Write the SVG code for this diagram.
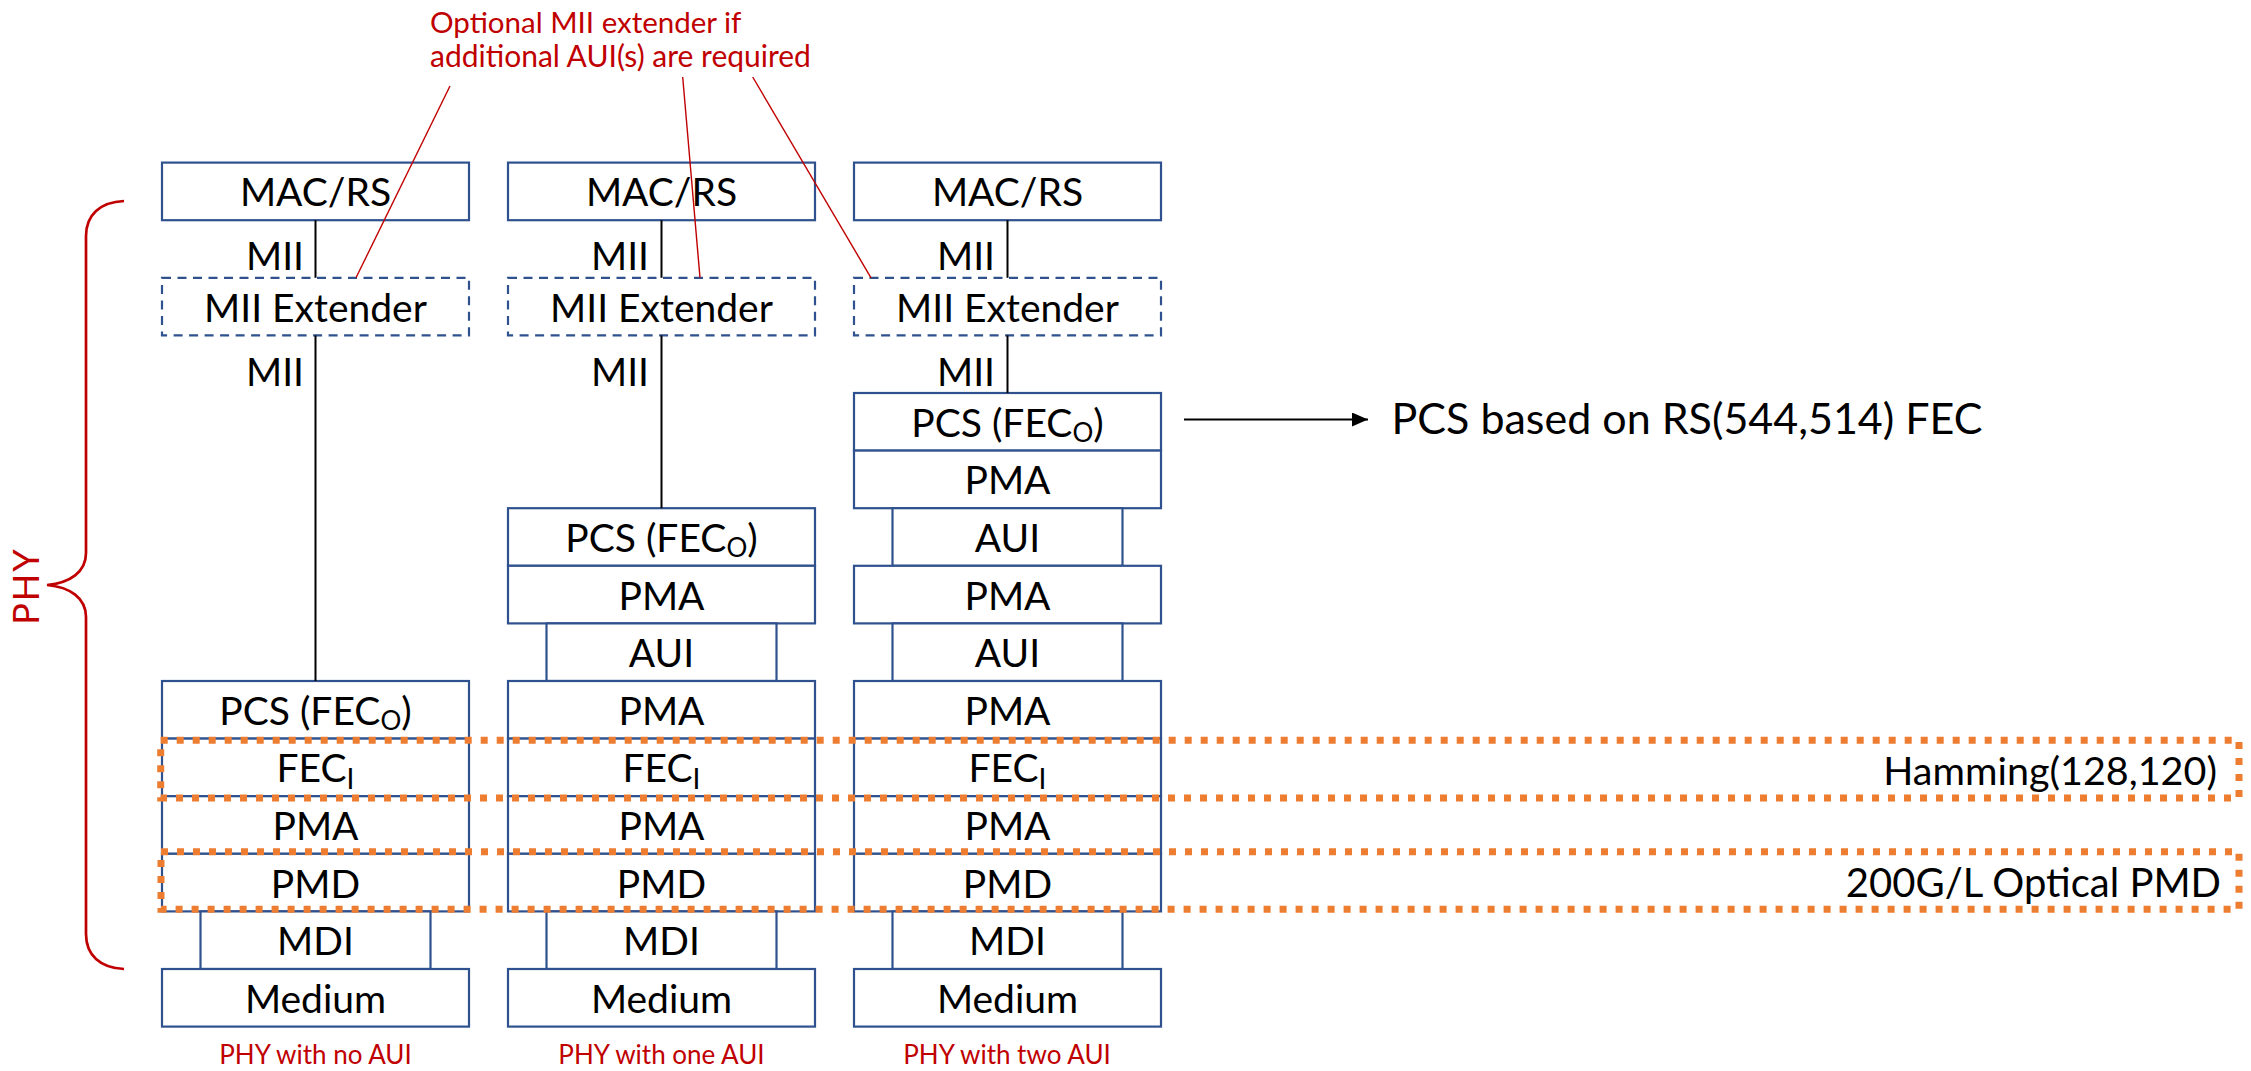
<svg xmlns="http://www.w3.org/2000/svg" width="2251" height="1071" viewBox="0 0 2251 1071">
<defs>
<style>
.b{fill:#fff;stroke:#2F528F;stroke-width:2.2}
.d{fill:#fff;stroke:#2F528F;stroke-width:2.2;stroke-dasharray:9 6.5}
.t{font-family:Lato,'Liberation Sans',sans-serif;font-size:39px;fill:#000;text-anchor:middle}
.m{font-family:Lato,'Liberation Sans',sans-serif;font-size:39px;fill:#000;text-anchor:end}
.r{font-family:Lato,'Liberation Sans',sans-serif;fill:#C00000}
.c{font-family:Lato,'Liberation Sans',sans-serif;font-size:26px;fill:#C00000;text-anchor:middle}
.k{stroke:#000;stroke-width:2;fill:none}
.rl{stroke:#C00000;stroke-width:1.4;fill:none}
.o{fill:none;stroke:#ED7D31;stroke-width:7;stroke-dasharray:7 9}
.big{font-family:Lato,'Liberation Sans',sans-serif;fill:#000}
</style>
<marker id="ah" markerWidth="8" markerHeight="7" refX="8" refY="3.5" orient="auto" markerUnits="strokeWidth">
<path d="M0,0 L8,3.5 L0,7 z" fill="#000"/>
</marker>
</defs>
<rect width="2251" height="1071" fill="#fff"/>

<g id="mii-labels">
<text class="m" x="304" y="270">MII</text>
<text class="m" x="304" y="385.5">MII</text>
<text class="m" x="649" y="270">MII</text>
<text class="m" x="649" y="385.5">MII</text>
<text class="m" x="995" y="270">MII</text>
<text class="m" x="995" y="385.5">MII</text>
</g>

<!-- Column 1 -->
<g id="c1-mac"><rect class="b" x="162" y="162.6" width="307" height="57.6"/><text class="t" x="315.5" y="206.4">MAC/RS</text></g>
<g id="c1-miiext"><rect class="d" x="162" y="277.8" width="307" height="57.6"/><text class="t" x="315.5" y="321.6">MII Extender</text></g>
<g id="c1-pcs"><rect class="b" x="162" y="681" width="307" height="57.6"/><text class="t" x="315.5" y="724.8">PCS (FEC<tspan font-size="26" dy="5">O</tspan><tspan dy="-5">)</tspan></text></g>
<g id="c1-feci"><rect class="b" x="162" y="738.6" width="307" height="57.6"/><text class="t" x="315.5" y="782.4">FEC<tspan font-size="28" dy="7">I</tspan></text></g>
<g id="c1-pma"><rect class="b" x="162" y="796.2" width="307" height="57.6"/><text class="t" x="315.5" y="840">PMA</text></g>
<g id="c1-pmd"><rect class="b" x="162" y="853.8" width="307" height="57.6"/><text class="t" x="315.5" y="897.6">PMD</text></g>
<g id="c1-mdi"><rect class="b" x="200.5" y="911.4" width="230" height="57.6"/><text class="t" x="315.5" y="955.2">MDI</text></g>
<g id="c1-medium"><rect class="b" x="162" y="969" width="307" height="57.6"/><text class="t" x="315.5" y="1012.8">Medium</text></g>

<!-- Column 2 -->
<g id="c2-mac"><rect class="b" x="508" y="162.6" width="307" height="57.6"/><text class="t" x="661.5" y="206.4">MAC/RS</text></g>
<g id="c2-miiext"><rect class="d" x="508" y="277.8" width="307" height="57.6"/><text class="t" x="661.5" y="321.6">MII Extender</text></g>
<g id="c2-pcs"><rect class="b" x="508" y="508.2" width="307" height="57.6"/><text class="t" x="661.5" y="552">PCS (FEC<tspan font-size="26" dy="5">O</tspan><tspan dy="-5">)</tspan></text></g>
<g id="c2-pma1"><rect class="b" x="508" y="565.8" width="307" height="57.6"/><text class="t" x="661.5" y="609.6">PMA</text></g>
<g id="c2-aui"><rect class="b" x="546.5" y="623.4" width="230" height="57.6"/><text class="t" x="661.5" y="667.2">AUI</text></g>
<g id="c2-pma2"><rect class="b" x="508" y="681" width="307" height="57.6"/><text class="t" x="661.5" y="724.8">PMA</text></g>
<g id="c2-feci"><rect class="b" x="508" y="738.6" width="307" height="57.6"/><text class="t" x="661.5" y="782.4">FEC<tspan font-size="28" dy="7">I</tspan></text></g>
<g id="c2-pma3"><rect class="b" x="508" y="796.2" width="307" height="57.6"/><text class="t" x="661.5" y="840">PMA</text></g>
<g id="c2-pmd"><rect class="b" x="508" y="853.8" width="307" height="57.6"/><text class="t" x="661.5" y="897.6">PMD</text></g>
<g id="c2-mdi"><rect class="b" x="546.5" y="911.4" width="230" height="57.6"/><text class="t" x="661.5" y="955.2">MDI</text></g>
<g id="c2-medium"><rect class="b" x="508" y="969" width="307" height="57.6"/><text class="t" x="661.5" y="1012.8">Medium</text></g>

<!-- Column 3 -->
<g id="c3-mac"><rect class="b" x="854" y="162.6" width="307" height="57.6"/><text class="t" x="1007.5" y="206.4">MAC/RS</text></g>
<g id="c3-miiext"><rect class="d" x="854" y="277.8" width="307" height="57.6"/><text class="t" x="1007.5" y="321.6">MII Extender</text></g>
<g id="c3-pcs"><rect class="b" x="854" y="393" width="307" height="57.6"/><text class="t" x="1007.5" y="436.8">PCS (FEC<tspan font-size="26" dy="5">O</tspan><tspan dy="-5">)</tspan></text></g>
<g id="c3-pma1"><rect class="b" x="854" y="450.6" width="307" height="57.6"/><text class="t" x="1007.5" y="494.4">PMA</text></g>
<g id="c3-aui1"><rect class="b" x="892.5" y="508.2" width="230" height="57.6"/><text class="t" x="1007.5" y="552">AUI</text></g>
<g id="c3-pma2"><rect class="b" x="854" y="565.8" width="307" height="57.6"/><text class="t" x="1007.5" y="609.6">PMA</text></g>
<g id="c3-aui2"><rect class="b" x="892.5" y="623.4" width="230" height="57.6"/><text class="t" x="1007.5" y="667.2">AUI</text></g>
<g id="c3-pma3"><rect class="b" x="854" y="681" width="307" height="57.6"/><text class="t" x="1007.5" y="724.8">PMA</text></g>
<g id="c3-feci"><rect class="b" x="854" y="738.6" width="307" height="57.6"/><text class="t" x="1007.5" y="782.4">FEC<tspan font-size="28" dy="7">I</tspan></text></g>
<g id="c3-pma4"><rect class="b" x="854" y="796.2" width="307" height="57.6"/><text class="t" x="1007.5" y="840">PMA</text></g>
<g id="c3-pmd"><rect class="b" x="854" y="853.8" width="307" height="57.6"/><text class="t" x="1007.5" y="897.6">PMD</text></g>
<g id="c3-mdi"><rect class="b" x="892.5" y="911.4" width="230" height="57.6"/><text class="t" x="1007.5" y="955.2">MDI</text></g>
<g id="c3-medium"><rect class="b" x="854" y="969" width="307" height="57.6"/><text class="t" x="1007.5" y="1012.8">Medium</text></g>

<g id="hamming-group">
<rect class="o" x="160.7" y="740.3" width="2078.3" height="57.7"/>
<text class="big" x="2217" y="785" font-size="39.5" text-anchor="end">Hamming(128,120)</text>
</g>
<g id="pmd-group">
<rect class="o" x="161" y="851.7" width="2078" height="57.6"/>
<text class="big" x="2221" y="896.5" font-size="40" text-anchor="end">200G/L Optical PMD</text>
</g>

<g id="pcs-note">
<text class="big" x="1391.5" y="433.5" font-size="43">PCS based on RS(544,514) FEC</text>
</g>

<g id="mii-note">
<text class="r" x="430" y="33.3" font-size="29.5">Optional MII extender if</text>
<text class="r" x="430" y="66.7" font-size="30">additional AUI(s) are required</text>
</g>

<g id="phy-brace">
<path d="M124,201 C100,202 86,215 86,236 L86,553 C86,572 70,583 47,585 C70,587 86,598 86,617 L86,934 C86,955 100,968 124,969" fill="none" stroke="#C00000" stroke-width="2.7"/>
<text class="r" transform="translate(39,586) rotate(-90)" x="0" y="0" font-size="36" text-anchor="middle" letter-spacing="2">PHY</text>
</g>

<g id="captions">
<text class="c" x="315.5" y="1064">PHY with no AUI</text>
<text class="c" x="661.5" y="1064">PHY with one AUI</text>
<text class="c" x="1007" y="1064">PHY with two AUI</text>
</g>

<g id="connectors">
<line class="k" x1="315.5" y1="220.2" x2="315.5" y2="277.8"/>
<line class="k" x1="315.5" y1="335.4" x2="315.5" y2="681"/>
<line class="k" x1="661.5" y1="220.2" x2="661.5" y2="277.8"/>
<line class="k" x1="661.5" y1="335.4" x2="661.5" y2="508.2"/>
<line class="k" x1="1007.5" y1="220.2" x2="1007.5" y2="277.8"/>
<line class="k" x1="1007.5" y1="335.4" x2="1007.5" y2="393"/>
<line class="k" x1="1184" y1="419.5" x2="1368" y2="419.5" marker-end="url(#ah)"/>
<line class="rl" x1="450" y1="86" x2="356" y2="277.8"/>
<line class="rl" x1="682.7" y1="77" x2="700" y2="277.8"/>
<line class="rl" x1="752.7" y1="77" x2="871" y2="277.8"/>
</g>
</svg>
